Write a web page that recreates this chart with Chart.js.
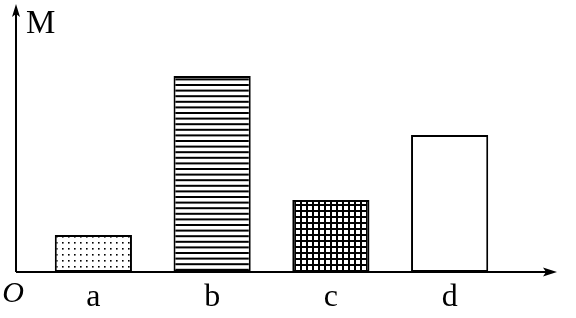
<!DOCTYPE html>
<html lang="en">
<head>
    <meta charset="UTF-8">
    <title>M</title>
    <script src="https://cdn.jsdelivr.net/npm/chart.js"></script>
    <style>
        html, body { margin: 0; padding: 0; background: #fff; }
        #wrap { width: 576px; height: 318px; position: relative; }
    </style>
</head>
<body>
    <div id="wrap"><canvas id="chart"></canvas></div>

    <script>
        // data
        const categories = ['a', 'b', 'c', 'd'];
        const values = [1.47, 7.78, 2.86, 5.44];
        const yMax = 10;

        // pattern helpers
        function makePattern(w, h, draw) {
            const c = document.createElement('canvas');
            c.width = w; c.height = h;
            const g = c.getContext('2d');
            g.fillStyle = '#fff';
            g.fillRect(0, 0, w, h);
            g.fillStyle = '#000';
            draw(g);
            return document.createElement('canvas').getContext('2d').createPattern(c, 'repeat');
        }
        const dots = makePattern(6, 6, g => { g.fillRect(2, 2, 1.6, 1.6); });
        const hlines = makePattern(4, 28, g => {
            for (let i = 0; i < 5; i++) g.fillRect(0, i * 5.6, 4, 2);
        });
        const grid = makePattern(6, 6, g => {
            g.fillRect(0, 0, 6, 2);
            g.fillRect(0, 0, 2, 6);
        });
        const fills = [dots, hlines, grid, '#ffffff'];

        // axes with arrows, O and M
        const axesPlugin = {
            id: 'axesArrows',
            afterDatasetsDraw(chart) {
                const { ctx, chartArea } = chart;
                const ox = 16, oy = chartArea.bottom;
                ctx.save();
                ctx.strokeStyle = '#000';
                ctx.fillStyle = '#000';
                ctx.lineWidth = 2;
                ctx.beginPath();
                ctx.moveTo(ox, oy); ctx.lineTo(550, oy);
                ctx.moveTo(ox, oy); ctx.lineTo(ox, 12);
                ctx.stroke();
                ctx.beginPath();
                ctx.moveTo(557, oy); ctx.lineTo(543, oy - 4.5); ctx.lineTo(546, oy); ctx.lineTo(543, oy + 4.5);
                ctx.closePath(); ctx.fill();
                ctx.beginPath();
                ctx.moveTo(ox, 4); ctx.lineTo(ox - 4, 17); ctx.lineTo(ox, 14); ctx.lineTo(ox + 4, 17);
                ctx.closePath(); ctx.fill();
                ctx.font = '33px "Liberation Serif"';
                ctx.textBaseline = 'alphabetic';
                ctx.textAlign = 'left';
                ctx.fillText('M', 26, 33);
                ctx.font = 'italic 30px "Liberation Serif"';
                ctx.textAlign = 'center';
                ctx.fillText('O', 13, 302);
                ctx.restore();
            }
        };

        new Chart(document.getElementById('chart'), {
            type: 'bar',
            data: {
                labels: categories,
                datasets: [{
                    data: values,
                    backgroundColor: fills,
                    borderColor: '#000',
                    borderWidth: 2,
                    borderSkipped: false,
                    categoryPercentage: 1,
                    barPercentage: 0.65
                }]
            },
            options: {
                responsive: true,
                maintainAspectRatio: false,
                animation: false,
                layout: { padding: { left: 34, right: 67, top: 20, bottom: 0 } },
                plugins: { legend: { display: false }, tooltip: { enabled: false } },
                scales: {
                    x: {
                        grid: { display: false, drawTicks: false },
                        border: { display: false },
                        ticks: { color: '#000', padding: 6, font: { family: 'Liberation Serif', size: 32 } },
                        afterFit: s => { s.height = 46; }
                    },
                    y: { display: false, min: 0, max: yMax }
                }
            },
            plugins: [axesPlugin]
        });
    </script>
</body>
</html>
